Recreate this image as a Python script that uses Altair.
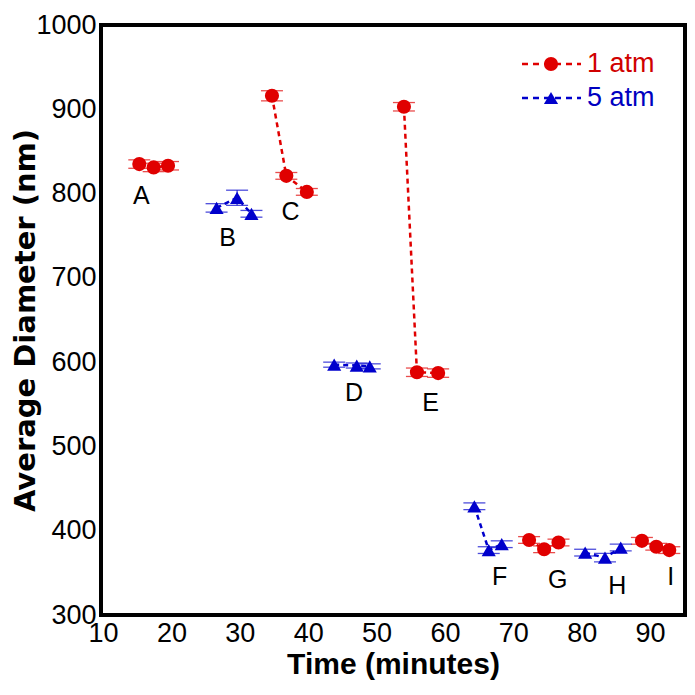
import altair as alt
import pandas as pd

# ---- data ----
groups = ["A", "B", "C", "D", "E", "F", "G", "H", "I"]
group_series = ["1 atm", "5 atm", "1 atm", "5 atm", "1 atm", "5 atm", "1 atm", "5 atm", "1 atm"]
times = [
    [15.3, 17.4, 19.5],
    [26.6, 29.6, 31.7],
    [34.7, 36.8, 39.8],
    [43.8, 47.1, 49.0],
    [54.0, 55.9, 59.0],
    [64.3, 66.4, 68.3],
    [72.3, 74.5, 76.6],
    [80.5, 83.4, 85.7],
    [88.8, 90.9, 92.8],
]
diameters = [
    [835, 831, 833],
    [783, 795, 776],
    [916, 821, 802],
    [597, 596, 595],
    [903, 588, 587],
    [429, 377, 384],
    [389, 378, 386],
    [374, 368, 380],
    [388, 381, 377],
]
errors = [
    [5, 5, 5],
    [5, 9, 4],
    [6, 4, 4],
    [3, 3, 3],
    [5, 5, 5],
    [4, 4, 4],
    [4, 4, 4],
    [4, 5, 4],
    [4, 4, 4],
]
# annotation letters (time, diameter)
label_time = [15.6, 28.2, 37.4, 46.7, 57.9, 68.0, 76.5, 85.2, 93.0]
label_diam = [797, 747, 778, 563, 551, 345, 342, 335, 345]

series_names = ["1 atm", "5 atm"]
series_colors = ["#e00000", "#0000cc"]
series_text_colors = ["#d00000", "#0000c0"]
series_shapes = ["circle", "triangle-up"]

rows = []
for g, s, ts, ds, es in zip(groups, group_series, times, diameters, errors):
    for t, d, e in zip(ts, ds, es):
        rows.append({"group": g, "series": s, "time": t, "diam": d,
                     "lo": d - e, "hi": d + e})
df = pd.DataFrame(rows)
labels_df = pd.DataFrame({"group": groups, "time": label_time, "diam": label_diam})

FONT = "Liberation Sans, Arial, sans-serif"
YTITLE_FONT = "DejaVu Sans, Liberation Sans, sans-serif"

xscale = alt.Scale(domain=[9.7, 95.1], nice=False, zero=False)
yscale = alt.Scale(domain=[300, 1000], nice=False, zero=False)
color = alt.Color("series:N", scale=alt.Scale(domain=series_names, range=series_colors), legend=None)
shape = alt.Shape("series:N", scale=alt.Scale(domain=series_names, range=series_shapes), legend=None)

X = alt.X("time:Q", scale=xscale,
          axis=alt.Axis(title="Time (minutes)", values=list(range(10, 100, 10)), grid=False,
                        format="d", domain=False, ticks=False, labelPadding=5, labelFontSize=27,
                        labelFont=FONT, titleFont=FONT, titleFontSize=30, titleFontWeight="bold",
                        titlePadding=3, labelColor="black", titleColor="black", labelFlush=False))
Y = alt.Y("diam:Q", scale=yscale,
          axis=alt.Axis(title="Average Diameter (nm)", values=list(range(300, 1100, 100)), grid=False,
                        format="d", domain=False, ticks=False, labelPadding=5, labelFontSize=27,
                        labelFont=FONT, titleFont=YTITLE_FONT, titleFontSize=29, titleFontWeight="bold",
                        titleX=-61, labelColor="black", titleColor="black", labelFlush=False))

base = alt.Chart(df)

lines = base.mark_line(strokeDash=[5, 4], strokeWidth=2.5).encode(
    x=X, y=Y, color=color, detail="group:N", order="time:Q")

err_rule = base.mark_rule(strokeWidth=1.2, opacity=0.8).encode(
    x="time:Q", y="lo:Q", y2="hi:Q", color=color)
cap_lo = base.mark_tick(orient="horizontal", size=22, thickness=1.3, opacity=0.7).encode(
    x="time:Q", y="lo:Q", color=color)
cap_hi = base.mark_tick(orient="horizontal", size=22, thickness=1.3, opacity=0.7).encode(
    x="time:Q", y="hi:Q", color=color)

points = base.mark_point(filled=True, opacity=1, size=200).encode(
    x="time:Q", y="diam:Q", color=color, shape=shape)

letters = alt.Chart(labels_df).mark_text(font=FONT, fontSize=25, color="black",
                                        baseline="middle", align="center").encode(
    x="time:Q", y="diam:Q", text="group:N")

# manual legend (top-right, inside plot)
legend_df = pd.DataFrame({"series": series_names})
legend_layers = []
for i, (name, col, tcol, shp) in enumerate(zip(series_names, series_colors, series_text_colors, series_shapes)):
    ly = 39 + 34 * i
    sub = alt.Chart(legend_df).transform_filter(alt.datum.series == name)
    legend_layers.append(sub.mark_rule(strokeDash=[6, 5], strokeWidth=2.5, color=col).encode(
        x=alt.value(421), x2=alt.value(480), y=alt.value(ly)))
    legend_layers.append(sub.mark_point(filled=True, opacity=1, size=200, shape=shp, color=col).encode(
        x=alt.value(450), y=alt.value(ly)))
    legend_layers.append(sub.mark_text(font=FONT, fontSize=27, align="left", baseline="middle",
                                       color=tcol).encode(
        x=alt.value(486), y=alt.value(ly), text="series:N"))

chart = alt.layer(lines, err_rule, cap_lo, cap_hi, points, letters, *legend_layers).properties(
    width=584, height=590,
    padding={"left": 93, "top": 17, "right": 2, "bottom": 72},
    autosize=alt.AutoSizeParams(type="none"),
    background="white",
).configure_view(stroke="black", strokeWidth=4)

chart.save("out.html", embed_options={"renderer": "svg", "actions": False})
